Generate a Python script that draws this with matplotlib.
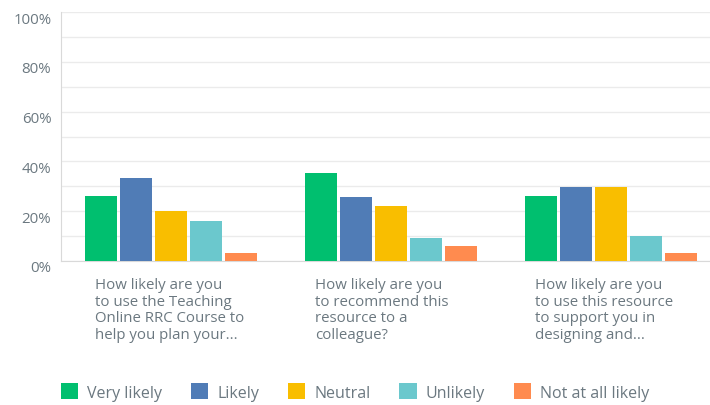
import matplotlib
matplotlib.use("Agg")
import matplotlib.pyplot as plt
import matplotlib.transforms as mtransforms
import numpy as np

plt.rcParams['font.family'] = ['Open Sans', 'DejaVu Sans']

# survey questions (x labels) and answer options
questions = ["How likely are you\nto use the Teaching\nOnline RRC Course to\nhelp you plan your...",
             "How likely are you\nto recommend this\nresource to a\ncolleague?",
             "How likely are you\nto use this resource\nto support you in\ndesigning and..."]
answers = ["Very likely", "Likely", "Neutral", "Unlikely", "Not at all likely"]
colors = ["#00BF6F", "#507CB6", "#F9BE00", "#6BC8CD", "#FF8B4F"]

# percentages per answer, one value per question
very_likely = [26.2, 35.3, 26.2]
likely = [33.2, 25.7, 29.8]
neutral = [20.0, 22.2, 29.8]
unlikely = [16.2, 9.2, 9.9]
not_at_all = [3.2, 6.1, 3.2]
series = [very_likely, likely, neutral, unlikely, not_at_all]

yticks = [0, 20, 40, 60, 80, 100]
ytick_labels = ["0%", "20%", "40%", "60%", "80%", "100%"]

txt = "#6b7880"
grid = "#ebebeb"

fig = plt.figure(figsize=(7.10, 4.06), dpi=100)
ax = fig.add_axes([61/710, 144/406, 649/710, 249/406])

x = np.arange(len(questions))
step = 35/220
width = 32/220
bars = []
for i, (vals, c) in enumerate(zip(series, colors)):
    b = ax.bar(x + (i - 2) * step, vals, width, color=c, zorder=3, label=answers[i])
    bars.append(b)

ax.set_ylim(0, 100)
ax.set_xlim(-0.5, 2.45)
ax.set_yticks(yticks)
ax.set_yticklabels(ytick_labels, color=txt, fontsize=10.8)
ax.set_yticks(np.arange(10, 100, 10), minor=True)
ax.yaxis.grid(True, which='both', color=grid, linewidth=1, zorder=0)
ax.tick_params(axis='y', which='both', length=0, pad=7)
ax.set_xticks([])
# labels sit a bit lower than their gridlines
off = mtransforms.ScaledTranslation(0, -5/100, fig.dpi_scale_trans)
for lab in ax.get_yticklabels():
    lab.set_transform(lab.get_transform() + off)

for s in ["top", "right"]:
    ax.spines[s].set_visible(False)
ax.spines["left"].set_color("#d9d9d9")
ax.spines["bottom"].set_color("#d9d9d9")

tr = mtransforms.blended_transform_factory(ax.transData, ax.transAxes)
for i, q in enumerate(questions):
    ax.text(i - 76/220, -0.065, q, transform=tr, ha='left', va='top',
            color=txt, fontsize=10.8, linespacing=1.15)

fig.legend(handles=bars, labels=answers, loc='center', bbox_to_anchor=(355/710, 1 - 393/406),
           ncol=5, frameon=False, fontsize=11.5, labelcolor=txt,
           handlelength=1.1, handleheight=1.1, handletextpad=0.55, columnspacing=1.8)

fig.savefig("out.png", dpi=100)
